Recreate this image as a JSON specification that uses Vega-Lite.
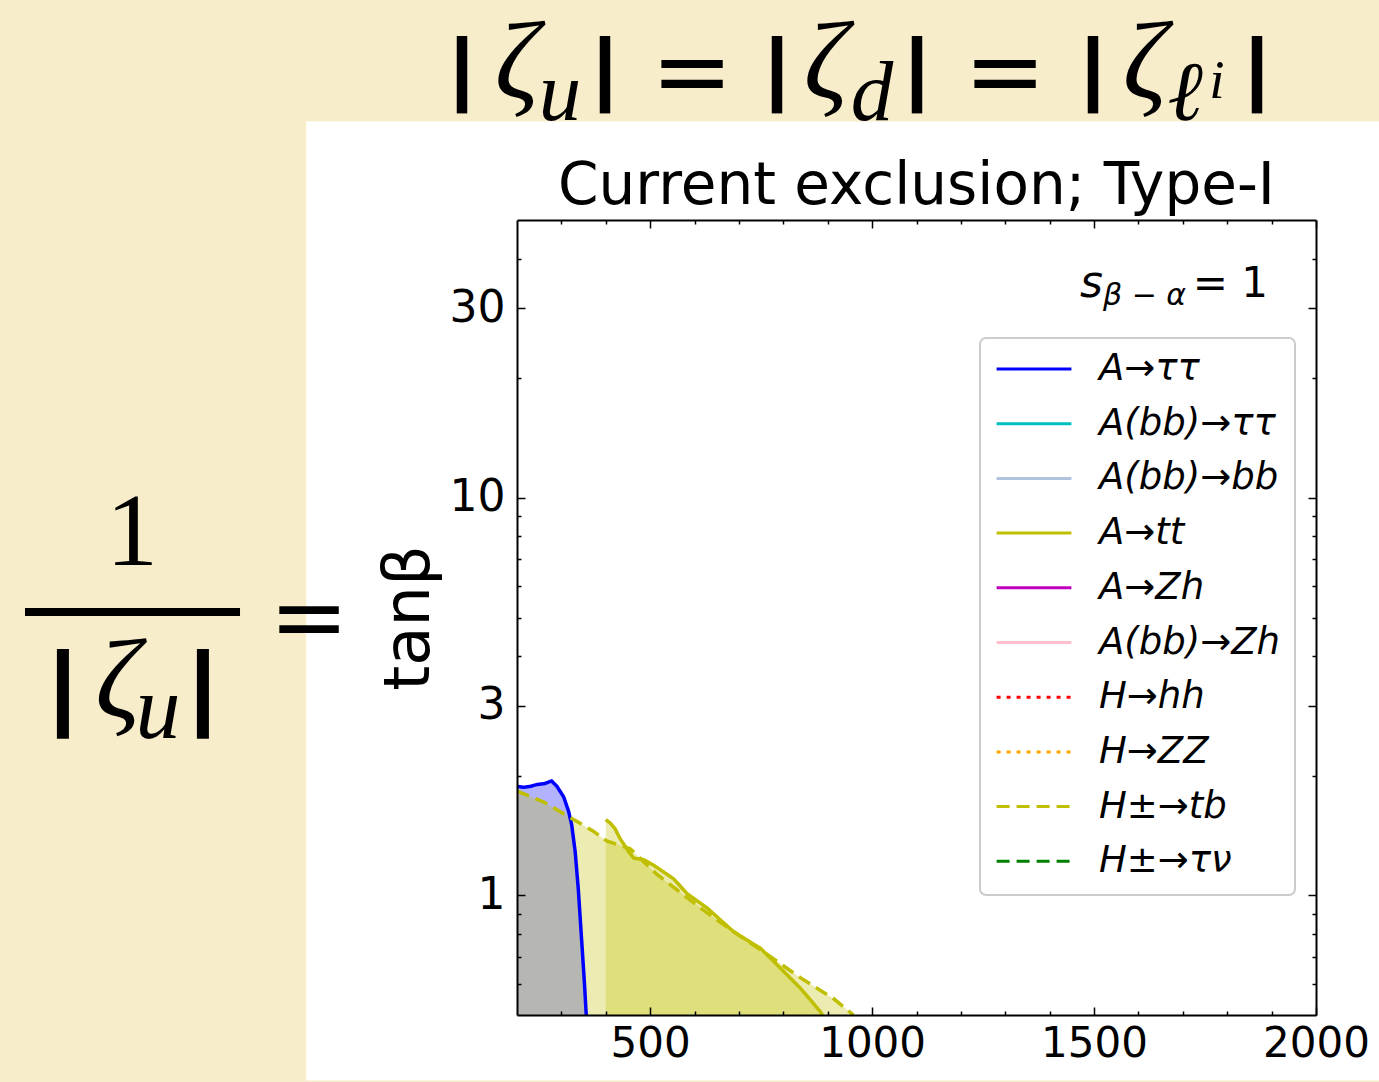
{
"$schema":"https://vega.github.io/schema/vega-lite/v6.json",
"width":799,"height":795,
"autosize":{"type":"none"},
"padding":{"left":517,"top":220,"right":63,"bottom":67},
"background":"#F7EDCB",
"title":{"text":"Current exclusion; Type-I","font":"DejaVu Sans","fontSize":58,"fontWeight":"normal","color":"#000000","anchor":"middle","offset":6,"dy":212},
"config":{
 "view":{"stroke":null},
 "axis":{"zindex":1,"domain":false,"domainColor":"#000000","domainWidth":2,"grid":false,"labelFont":"DejaVu Sans","labelColor":"#000000","labelFlush":false,"labelOverlap":false,"tickColor":"#000000","tickWidth":1.5,"titleFont":"DejaVu Sans","titleColor":"#000000","titleFontWeight":"normal"},
 "legend":{"orient":"none","legendX":463,"legendY":118,"fillColor":"#ffffff","strokeColor":"#cccccc","strokeWidth":2,"cornerRadius":6,"padding":15,"symbolType":"stroke","symbolSize":5600,"symbolStrokeWidth":3,"labelFont":"DejaVu Sans","labelFontStyle":"italic","labelFontSize":37,"labelColor":"#000000","labelOffset":26,"labelLimit":400,"clipHeight":32,"rowPadding":17.7}
},
"datasets":{
 "curves":[
  {"process":"A→ττ","m":200,"tb":1.88},{"process":"A→ττ","m":215,"tb":1.87},{"process":"A→ττ","m":230,"tb":1.88},{"process":"A→ττ","m":245,"tb":1.9},{"process":"A→ττ","m":262,"tb":1.91},{"process":"A→ττ","m":278,"tb":1.94},{"process":"A→ττ","m":290,"tb":1.88},{"process":"A→ττ","m":305,"tb":1.77},{"process":"A→ττ","m":316,"tb":1.63},{"process":"A→ττ","m":323,"tb":1.51},{"process":"A→ττ","m":331,"tb":1.29},{"process":"A→ττ","m":338,"tb":1.04},{"process":"A→ττ","m":346,"tb":0.76},{"process":"A→ττ","m":352,"tb":0.6},{"process":"A→ττ","m":356,"tb":0.5},
  {"process":"H±→tb","m":200,"tb":1.83},{"process":"H±→tb","m":259,"tb":1.72},{"process":"H±→tb","m":320,"tb":1.57},{"process":"H±→tb","m":372,"tb":1.45},{"process":"H±→tb","m":402,"tb":1.37},{"process":"H±→tb","m":455,"tb":1.31},{"process":"H±→tb","m":515,"tb":1.13},{"process":"H±→tb","m":613,"tb":0.93},{"process":"H±→tb","m":688,"tb":0.81},{"process":"H±→tb","m":764,"tb":0.71},{"process":"H±→tb","m":839,"tb":0.62},{"process":"H±→tb","m":913,"tb":0.55},{"process":"H±→tb","m":958,"tb":0.5},
  {"process":"A→tt","m":400,"tb":1.55},{"process":"A→tt","m":410,"tb":1.52},{"process":"A→tt","m":421,"tb":1.47},{"process":"A→tt","m":432,"tb":1.39},{"process":"A→tt","m":451,"tb":1.29},{"process":"A→tt","m":463,"tb":1.24},{"process":"A→tt","m":485,"tb":1.23},{"process":"A→tt","m":508,"tb":1.19},{"process":"A→tt","m":553,"tb":1.1},{"process":"A→tt","m":583,"tb":1.01},{"process":"A→tt","m":628,"tb":0.93},{"process":"A→tt","m":688,"tb":0.81},{"process":"A→tt","m":749,"tb":0.735},{"process":"A→tt","m":794,"tb":0.655},{"process":"A→tt","m":839,"tb":0.583},{"process":"A→tt","m":884,"tb":0.509},{"process":"A→tt","m":888,"tb":0.5}
 ]
},
"layer":[
 {"data":{"values":[{}]},
  "mark":{"type":"rect","fill":"#ffffff"},
  "encoding":{
   "x":{"datum":-275,"type":"quantitative","scale":{"domain":[200,2000],"nice":false,"zero":false},
        "axis":{"orient":"bottom","zindex":2,"values":[500,1000,1500,2000],"format":"d","ticks":false,"domain":true,"labelFontSize":42,"labelPadding":8,"title":null}},
   "x2":{"datum":2142},
   "y":{"datum":88.5,"type":"quantitative","scale":{"type":"log","domain":[0.5,50],"nice":false},
        "axis":{"orient":"left","zindex":2,"values":[1,3,10,30],"format":"d","ticks":false,"domain":true,"labelFontSize":44,"labelPadding":12,"title":"tanβ","titleFontSize":64,"titlePadding":8}},
   "y2":{"datum":0.342}
  }},
 {"data":{"name":"curves"},"transform":[{"filter":"datum.process === 'A→ττ'"}],
  "mark":{"type":"area","fill":"#0000ff","fillOpacity":0.3},
  "encoding":{
   "x":{"field":"m","type":"quantitative","scale":{"domain":[200,2000],"nice":false,"zero":false},
        "axis":{"orient":"bottom","zindex":2,"values":[500,1000,1500,2000],"labels":false,"tickSize":-8,"title":null}},
   "y":{"field":"tb","type":"quantitative","scale":{"type":"log","domain":[0.5,50],"nice":false},
        "axis":{"orient":"left","zindex":2,"values":[1,3,10,30],"labels":false,"tickSize":-8,"title":null}},
   "y2":{"datum":0.5}
  }},
 {"data":{"name":"curves"},"transform":[{"filter":"datum.process === 'H±→tb'"}],
  "mark":{"type":"area","fill":"#bfbf00","fillOpacity":0.3},
  "encoding":{
   "x":{"field":"m","type":"quantitative","scale":{"domain":[200,2000],"nice":false,"zero":false},
        "axis":{"orient":"bottom","zindex":2,"values":[300,400,600,700,800,900,1100,1200,1300,1400,1600,1700,1800,1900],"labels":false,"tickSize":-4,"title":null}},
   "y":{"field":"tb","type":"quantitative","scale":{"type":"log","domain":[0.5,50],"nice":false},
        "axis":{"orient":"left","zindex":2,"values":[0.6,0.7,0.8,0.9,2,4,5,6,7,8,9,20,40],"labels":false,"tickSize":-4,"title":null}},
   "y2":{"datum":0.5}
  }},
 {"data":{"name":"curves"},"transform":[{"filter":"datum.process === 'A→tt'"}],
  "mark":{"type":"area","fill":"#bfbf00","fillOpacity":0.3},
  "encoding":{
   "x":{"field":"m","type":"quantitative","scale":{"domain":[200,2000],"nice":false,"zero":false},
        "axis":{"orient":"top","zindex":2,"values":[500,1000,1500,2000],"labels":false,"tickSize":-8,"domain":true,"title":null}},
   "y":{"field":"tb","type":"quantitative","scale":{"type":"log","domain":[0.5,50],"nice":false},
        "axis":{"orient":"right","zindex":2,"values":[1,3,10,30],"labels":false,"tickSize":-8,"domain":true,"title":null}},
   "y2":{"datum":0.5}
  }},
 {"data":{"name":"curves"},
  "mark":{"type":"line","strokeWidth":3.5},
  "encoding":{
   "x":{"field":"m","type":"quantitative","scale":{"domain":[200,2000],"nice":false,"zero":false},
        "axis":{"orient":"top","zindex":2,"values":[300,400,600,700,800,900,1100,1200,1300,1400,1600,1700,1800,1900],"labels":false,"tickSize":-4,"title":null}},
   "y":{"field":"tb","type":"quantitative","scale":{"type":"log","domain":[0.5,50],"nice":false},
        "axis":{"orient":"right","zindex":2,"values":[0.6,0.7,0.8,0.9,2,4,5,6,7,8,9,20,40],"labels":false,"tickSize":-4,"title":null}},
   "color":{"field":"process","type":"nominal","title":null,
     "scale":{"domain":["A→ττ","A(bb)→ττ","A(bb)→bb","A→tt","A→Zh","A(bb)→Zh","H→hh","H→ZZ","H±→tb","H±→τν"],
              "range":["#0000ff","#00bfbf","#b0c4de","#bfbf00","#bf00bf","#ffc0cb","#ff0000","#ffa500","#bfbf00","#008000"]}},
   "strokeDash":{"field":"process","type":"nominal","title":null,
     "scale":{"domain":["A→ττ","A(bb)→ττ","A(bb)→bb","A→tt","A→Zh","A(bb)→Zh","H→hh","H→ZZ","H±→tb","H±→τν"],
              "range":[[1,0],[1,0],[1,0],[1,0],[1,0],[1,0],[4,6],[4,6],[13,7],[13,7]]}}
  }},
 {"data":{"values":[{"label":"s","x":1468.3,"y":32.0}]},
  "mark":{"type":"text","font":"DejaVu Sans","fontStyle":"italic","fontSize":44,"align":"left","baseline":"alphabetic","color":"#000000"},
  "encoding":{"x":{"field":"x","type":"quantitative","scale":{"domain":[200,2000],"nice":false,"zero":false},"axis":null},
              "y":{"field":"y","type":"quantitative","scale":{"type":"log","domain":[0.5,50],"nice":false},"axis":null},
              "text":{"field":"label"}}},
 {"data":{"values":[{"label":"β − α","x":1520.1,"y":30.56}]},
  "mark":{"type":"text","font":"DejaVu Sans","fontStyle":"italic","fontSize":30,"align":"left","baseline":"alphabetic","color":"#000000"},
  "encoding":{"x":{"field":"x","type":"quantitative","scale":{"domain":[200,2000],"nice":false,"zero":false},"axis":null},
              "y":{"field":"y","type":"quantitative","scale":{"type":"log","domain":[0.5,50],"nice":false},"axis":null},
              "text":{"field":"label"}}},
 {"data":{"values":[{"label":"= 1","x":1891.9,"y":32.0}]},
  "mark":{"type":"text","font":"DejaVu Sans","fontSize":42,"align":"right","baseline":"alphabetic","color":"#000000"},
  "encoding":{"x":{"field":"x","type":"quantitative","scale":{"domain":[200,2000],"nice":false,"zero":false},"axis":null},
              "y":{"field":"y","type":"quantitative","scale":{"type":"log","domain":[0.5,50],"nice":false},"axis":null},
              "text":{"field":"label"}}},
 {"data":{"values":[{"label":"|","x":76.1,"y":103.2},{"label":"|","x":398.2,"y":103.2},{"label":"|","x":785.7,"y":103.2},{"label":"|","x":1101.1,"y":103.2},{"label":"|","x":1497.6,"y":103.2},{"label":"|","x":1867.1,"y":103.2}]},
  "mark":{"type":"text","font":"Liberation Sans","fontWeight":"bold","fontSize":82,"align":"center","baseline":"alphabetic","color":"#000000"},
  "encoding":{"x":{"field":"x","type":"quantitative","scale":{"domain":[200,2000],"nice":false,"zero":false},"axis":null},
              "y":{"field":"y","type":"quantitative","scale":{"type":"log","domain":[0.5,50],"nice":false},"axis":null},
              "text":{"field":"label"}}},
 {"data":{"values":[{"label":"|","x":-822.8,"y":2.789},{"label":"|","x":-507.4,"y":2.789}]},
  "mark":{"type":"text","font":"Liberation Sans","fontWeight":"bold","fontSize":94,"align":"center","baseline":"alphabetic","color":"#000000"},
  "encoding":{"x":{"field":"x","type":"quantitative","scale":{"domain":[200,2000],"nice":false,"zero":false},"axis":null},
              "y":{"field":"y","type":"quantitative","scale":{"type":"log","domain":[0.5,50],"nice":false},"axis":null},
              "text":{"field":"label"}}},
 {"data":{"values":[{"label":"ζ","x":200,"y":101.4},{"label":"ζ","x":896.1,"y":101.4},{"label":"ζ","x":1614.8,"y":101.4}]},
  "mark":{"type":"text","font":"Liberation Serif","fontStyle":"italic","fontSize":110,"align":"center","baseline":"alphabetic","color":"#000000"},
  "encoding":{"x":{"field":"x","type":"quantitative","scale":{"domain":[200,2000],"nice":false,"zero":false},"axis":null},
              "y":{"field":"y","type":"quantitative","scale":{"type":"log","domain":[0.5,50],"nice":false},"axis":null},
              "text":{"field":"label"}}},
 {"data":{"values":[{"label":"ζ","x":-698.9,"y":2.81}]},
  "mark":{"type":"text","font":"Liberation Serif","fontStyle":"italic","fontSize":112,"align":"center","baseline":"alphabetic","color":"#000000"},
  "encoding":{"x":{"field":"x","type":"quantitative","scale":{"domain":[200,2000],"nice":false,"zero":false},"axis":null},
              "y":{"field":"y","type":"quantitative","scale":{"type":"log","domain":[0.5,50],"nice":false},"axis":null},
              "text":{"field":"label"}}},
 {"data":{"values":[{"label":"u","x":296.9,"y":89.2},{"label":"d","x":999.7,"y":89.2},{"label":"ℓ","x":1704.9,"y":89.2}]},
  "mark":{"type":"text","font":"Liberation Serif","fontStyle":"italic","fontSize":85,"align":"center","baseline":"alphabetic","color":"#000000"},
  "encoding":{"x":{"field":"x","type":"quantitative","scale":{"domain":[200,2000],"nice":false,"zero":false},"axis":null},
              "y":{"field":"y","type":"quantitative","scale":{"type":"log","domain":[0.5,50],"nice":false},"axis":null},
              "text":{"field":"label"}}},
 {"data":{"values":[{"label":"u","x":-608.8,"y":2.488}]},
  "mark":{"type":"text","font":"Liberation Serif","fontStyle":"italic","fontSize":90,"align":"center","baseline":"alphabetic","color":"#000000"},
  "encoding":{"x":{"field":"x","type":"quantitative","scale":{"domain":[200,2000],"nice":false,"zero":false},"axis":null},
              "y":{"field":"y","type":"quantitative","scale":{"type":"log","domain":[0.5,50],"nice":false},"axis":null},
              "text":{"field":"label"}}},
 {"data":{"values":[{"label":"i","x":1777,"y":101.4}]},
  "mark":{"type":"text","font":"Liberation Serif","fontStyle":"italic","fontSize":55,"align":"center","baseline":"alphabetic","color":"#000000"},
  "encoding":{"x":{"field":"x","type":"quantitative","scale":{"domain":[200,2000],"nice":false,"zero":false},"axis":null},
              "y":{"field":"y","type":"quantitative","scale":{"type":"log","domain":[0.5,50],"nice":false},"axis":null},
              "text":{"field":"label"}}},
 {"data":{"values":[{"label":"=","x":594.2,"y":97.2},{"label":"=","x":1299.4,"y":97.2}]},
  "mark":{"type":"text","font":"DejaVu Sans","fontSize":98,"align":"center","baseline":"alphabetic","color":"#000000"},
  "encoding":{"x":{"field":"x","type":"quantitative","scale":{"domain":[200,2000],"nice":false,"zero":false},"axis":null},
              "y":{"field":"y","type":"quantitative","scale":{"type":"log","domain":[0.5,50],"nice":false},"axis":null},
              "text":{"field":"label"}}},
 {"data":{"values":[{"label":"=","x":-268.6,"y":4.176}]},
  "mark":{"type":"text","font":"DejaVu Sans","fontSize":95,"align":"center","baseline":"alphabetic","color":"#000000"},
  "encoding":{"x":{"field":"x","type":"quantitative","scale":{"domain":[200,2000],"nice":false,"zero":false},"axis":null},
              "y":{"field":"y","type":"quantitative","scale":{"type":"log","domain":[0.5,50],"nice":false},"axis":null},
              "text":{"field":"label"}}},
 {"data":{"values":[{"label":"1","x":-667.3,"y":6.78}]},
  "mark":{"type":"text","font":"Liberation Serif","fontSize":104,"align":"center","baseline":"alphabetic","color":"#000000"},
  "encoding":{"x":{"field":"x","type":"quantitative","scale":{"domain":[200,2000],"nice":false,"zero":false},"axis":null},
              "y":{"field":"y","type":"quantitative","scale":{"type":"log","domain":[0.5,50],"nice":false},"axis":null},
              "text":{"field":"label"}}},
 {"data":{"values":[{"x":-908.4,"x2":-424.0,"y":5.16}]},
  "mark":{"type":"rule","strokeWidth":8,"color":"#000000"},
  "encoding":{"x":{"field":"x","type":"quantitative","scale":{"domain":[200,2000],"nice":false,"zero":false},"axis":null},
              "x2":{"field":"x2"},
              "y":{"field":"y","type":"quantitative","scale":{"type":"log","domain":[0.5,50],"nice":false},"axis":null}}}
],
"resolve":{"axis":{"x":"independent","y":"independent"}}
}
